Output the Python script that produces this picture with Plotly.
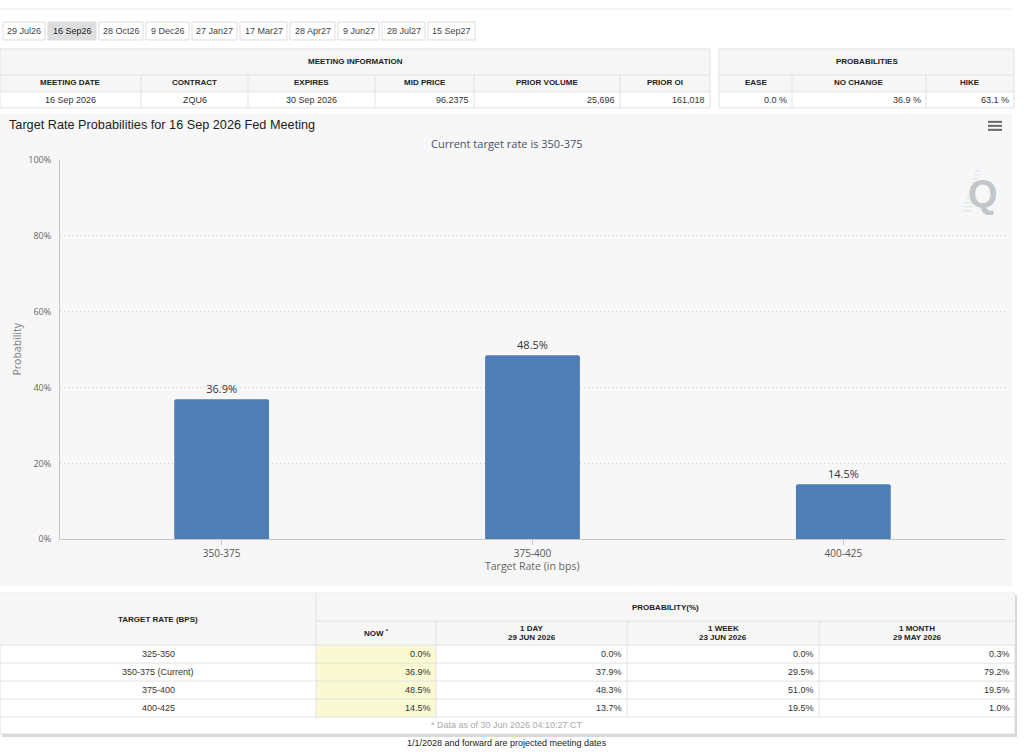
import plotly.graph_objects as go

W, H = 1024, 753
# the photo squeezes the page a little vertically and starts it 6px down:
# a figure 759px tall lands on reference rows 6..753
FIG_H = 759
TOP_PAD = 6
SPAN = H - TOP_PAD

# ---- data ----
tab_labels = ["29 Jul26", "16 Sep26", "28 Oct26", "9 Dec26", "27 Jan27",
              "17 Mar27", "28 Apr27", "9 Jun27", "28 Jul27", "15 Sep27"]
selected_tab = "16 Sep26"

meeting_headers = ["MEETING DATE", "CONTRACT", "EXPIRES", "MID PRICE", "PRIOR VOLUME", "PRIOR OI"]
meeting_values = ["16 Sep 2026", "ZQU6", "30 Sep 2026", "96.2375", "25,696", "161,018"]
meeting_align = ["center", "center", "center", "right", "right", "right"]

outcome_headers = ["EASE", "NO CHANGE", "HIKE"]
outcome_probs = [0.0, 36.9, 63.1]

meeting_date = "16 Sep 2026"
current_rate = "350-375"

chart_rates = ["350-375", "375-400", "400-425"]
chart_probs = [36.9, 48.5, 14.5]

table_rates = ["325-350", "350-375 (Current)", "375-400", "400-425"]
now_probs = [0.0, 36.9, 48.5, 14.5]
day_probs = [0.0, 37.9, 48.3, 13.7]
week_probs = [0.0, 29.5, 51.0, 19.5]
month_probs = [0.3, 79.2, 19.5, 1.0]
history_headers = [("1 DAY", "29 JUN 2026"), ("1 WEEK", "23 JUN 2026"), ("1 MONTH", "29 MAY 2026")]
data_stamp = "30 Jun 2026 04:10:27 CT"

# ---- page geometry (pixels of the reference page) ----
TAB_EDGES = [(3, 45), (48, 96), (99, 143), (146, 189), (192, 237),
             (240, 287), (290, 335), (338, 379), (382, 425), (428, 475)]
MEET_COLS = [0, 141, 248, 375, 474, 620, 710]
OUT_COLS = [719, 792, 926, 1014]
TOP_ROWS = [48, 74, 91, 107]
BOT_COLS = [0, 316, 436, 627, 819, 1015]
BOT_ROWS = [593, 621, 645, 663, 681, 699, 717, 734]

TABLE_FONT = "Liberation Sans, Arial, sans-serif"
CHART_FONT = "Open Sans, DejaVu Sans, sans-serif"
BORDER = "#e2e2e2"
HEAD_BG = "#f6f6f6"

shapes = []
annotations = []


def X(x):
    return x / W


def Y(y):
    return 1 - (y - TOP_PAD) / SPAN


def box(x0, y0, x1, y1, fill="rgba(0,0,0,0)", line="rgba(0,0,0,0)", width=1):
    shapes.append(dict(type="rect", xref="paper", yref="paper", layer="below",
                       x0=X(x0), x1=X(x1), y0=Y(y1), y1=Y(y0),
                       fillcolor=fill, line=dict(color=line, width=width)))


def seg(x0, y0, x1, y1, color=BORDER, width=1):
    shapes.append(dict(type="line", xref="paper", yref="paper", layer="below",
                       x0=X(x0), x1=X(x1), y0=Y(y0), y1=Y(y1),
                       line=dict(color=color, width=width)))


def text(x, y, s, size=9, color="#333333", anchor="center", family=TABLE_FONT, angle=0):
    annotations.append(dict(xref="paper", yref="paper", x=X(x), y=Y(y), text=s,
                            showarrow=False, xanchor=anchor, yanchor="middle",
                            textangle=angle, borderpad=0,
                            font=dict(size=size, color=color, family=family)))


def cell_text(x0, x1, y, s, align, size=9, color="#333333"):
    if align == "right":
        text(x1 - 4, y, s, size, color, "right")
    else:
        text((x0 + x1) / 2, y, s, size, color, "center")


# top rule
seg(0, 8, 1012, 8, "#e8e8e8")

# meeting tabs
for label, (x0, x1) in zip(tab_labels, TAB_EDGES):
    sel = label == selected_tab
    box(x0, 21, x1, 39, fill="#dedede" if sel else "white", line="#dddddd")
    text((x0 + x1) / 2, 30, label, 9, "#222222" if sel else "#444444")

# meeting information table
box(MEET_COLS[0], TOP_ROWS[0], MEET_COLS[-1], TOP_ROWS[2], fill=HEAD_BG)
box(MEET_COLS[0], TOP_ROWS[0], MEET_COLS[-1], TOP_ROWS[3], line=BORDER)
seg(MEET_COLS[0], TOP_ROWS[1], MEET_COLS[-1], TOP_ROWS[1])
seg(MEET_COLS[0], TOP_ROWS[2], MEET_COLS[-1], TOP_ROWS[2])
for xc in MEET_COLS[1:-1]:
    seg(xc, TOP_ROWS[1], xc, TOP_ROWS[3])
text((MEET_COLS[0] + MEET_COLS[-1]) / 2, 61, "<b>MEETING INFORMATION</b>", 8, "#222222")
for i, (hd, val) in enumerate(zip(meeting_headers, meeting_values)):
    x0, x1 = MEET_COLS[i], MEET_COLS[i + 1]
    text((x0 + x1) / 2, 82, f"<b>{hd}</b>", 8, "#222222")
    cell_text(x0, x1, 99, val, meeting_align[i])

# probabilities table
box(OUT_COLS[0], TOP_ROWS[0], OUT_COLS[-1], TOP_ROWS[2], fill=HEAD_BG)
box(OUT_COLS[0], TOP_ROWS[0], OUT_COLS[-1], TOP_ROWS[3], line=BORDER)
seg(OUT_COLS[0], TOP_ROWS[1], OUT_COLS[-1], TOP_ROWS[1])
seg(OUT_COLS[0], TOP_ROWS[2], OUT_COLS[-1], TOP_ROWS[2])
for xc in OUT_COLS[1:-1]:
    seg(xc, TOP_ROWS[1], xc, TOP_ROWS[3])
text((OUT_COLS[0] + OUT_COLS[-1]) / 2, 61, "<b>PROBABILITIES</b>", 8, "#222222")
for i, (hd, val) in enumerate(zip(outcome_headers, outcome_probs)):
    x0, x1 = OUT_COLS[i], OUT_COLS[i + 1]
    text((x0 + x1) / 2, 82, f"<b>{hd}</b>", 8, "#222222")
    cell_text(x0, x1, 99, f"{val:.1f} %", "right")

# chart panel
box(0, 113, 1012, 586, fill="#f7f7f7")
text(8, 124, f"Target Rate Probabilities for {meeting_date} Fed Meeting", 12.7, "#222222", "left")
text(507, 143, f"Current target rate is {current_rate}", 11, "#475069", "center", CHART_FONT)
text(17, 349, "Probability", 10.5, "#777777", "center", CHART_FONT, angle=-90)
text(532, 566, "Target Rate (in bps)", 10.5, "#666666", "center", CHART_FONT)
for yy in (121, 125, 129):
    seg(988, yy, 1002, yy, "#666666", 2)
# Q watermark with faint speed lines
for k in range(11):
    seg(975 - k * 1.3, 170 + k * 4, 980 - k * 0.8, 170 + k * 4, "#d6e6f2", 1)
text(983, 193, "<b>Q</b>", 38, "#c3c6c9", "center", "Liberation Sans, Arial, sans-serif")

# bottom history table
box(2, 595, 1017, 737, fill="#d9d9d9")
box(BOT_COLS[0], BOT_ROWS[0], BOT_COLS[-1], BOT_ROWS[-1], fill="white", line="#dcdcdc")
box(BOT_COLS[0], BOT_ROWS[0], BOT_COLS[-1], BOT_ROWS[2], fill=HEAD_BG)
box(BOT_COLS[1], BOT_ROWS[2], BOT_COLS[2], BOT_ROWS[6], fill="#fafad2")
seg(BOT_COLS[1], BOT_ROWS[1], BOT_COLS[-1], BOT_ROWS[1])
for yy in BOT_ROWS[2:7]:
    seg(BOT_COLS[0], yy, BOT_COLS[-1], yy)
seg(BOT_COLS[1], BOT_ROWS[0], BOT_COLS[1], BOT_ROWS[6])
for xc in BOT_COLS[2:-1]:
    seg(xc, BOT_ROWS[1], xc, BOT_ROWS[6])
text((BOT_COLS[0] + BOT_COLS[1]) / 2, 619, "<b>TARGET RATE (BPS)</b>", 8, "#222222")
text((BOT_COLS[1] + BOT_COLS[-1]) / 2, 607, "<b>PROBABILITY(%)</b>", 8, "#222222")
text((BOT_COLS[1] + BOT_COLS[2]) / 2, 633, "<b>NOW <sup>*</sup></b>", 8, "#222222")
for i, (top, bottom) in enumerate(history_headers):
    x0, x1 = BOT_COLS[i + 2], BOT_COLS[i + 3]
    text((x0 + x1) / 2, 628, f"<b>{top}</b>", 8, "#222222")
    text((x0 + x1) / 2, 637, f"<b>{bottom}</b>", 8, "#222222")
for r, rate in enumerate(table_rates):
    yc = (BOT_ROWS[r + 2] + BOT_ROWS[r + 3]) / 2
    cell_text(BOT_COLS[0], BOT_COLS[1], yc, rate, "center")
    for c, series in enumerate([now_probs, day_probs, week_probs, month_probs]):
        cell_text(BOT_COLS[c + 1], BOT_COLS[c + 2], yc, f"{series[r]:.1f}%", "right")
text(507, 725, f"* Data as of {data_stamp}", 9, "#aaaaaa")
text(507, 743, "1/1/2028 and forward are projected meeting dates", 9, "#222222")

fig = go.Figure(
    go.Bar(
        x=chart_rates,
        y=chart_probs,
        width=0.305,
        marker=dict(color="#4f7eb7", cornerradius=2, line=dict(width=0)),
        text=[f"{p:.1f}%" for p in chart_probs],
        textposition="outside",
        cliponaxis=False,
        textfont=dict(size=11, color="#333333", family=CHART_FONT),
        hoverinfo="skip",
    )
)

fig.update_layout(
    width=W,
    height=FIG_H,
    margin=dict(l=0, r=0, t=0, b=0),
    paper_bgcolor="white",
    plot_bgcolor="#f7f7f7",
    showlegend=False,
    shapes=shapes,
    annotations=annotations,
    xaxis=dict(
        domain=[X(60), X(1005)],
        range=[-0.52, 2.52],
        showline=True,
        linecolor="#c6c6c6",
        ticks="outside",
        ticklen=5,
        tickcolor="#c6c6c6",
        showgrid=False,
        tickfont=dict(size=10, color="#555555", family=CHART_FONT),
        fixedrange=True,
    ),
    yaxis=dict(
        domain=[Y(539), Y(159)],
        range=[0, 100],
        dtick=20,
        ticksuffix="%",
        showgrid=True,
        gridcolor="#d2d2d2",
        griddash="1px,3px",
        zeroline=False,
        showline=True,
        linecolor="#c6c6c6",
        ticklabelstandoff=6,
        tickfont=dict(size=9, color="#666666", family=CHART_FONT),
        fixedrange=True,
    ),
)

fig.write_html("out.html", config={"displayModeBar": False},
               post_script="document.body.style.margin='0';")
